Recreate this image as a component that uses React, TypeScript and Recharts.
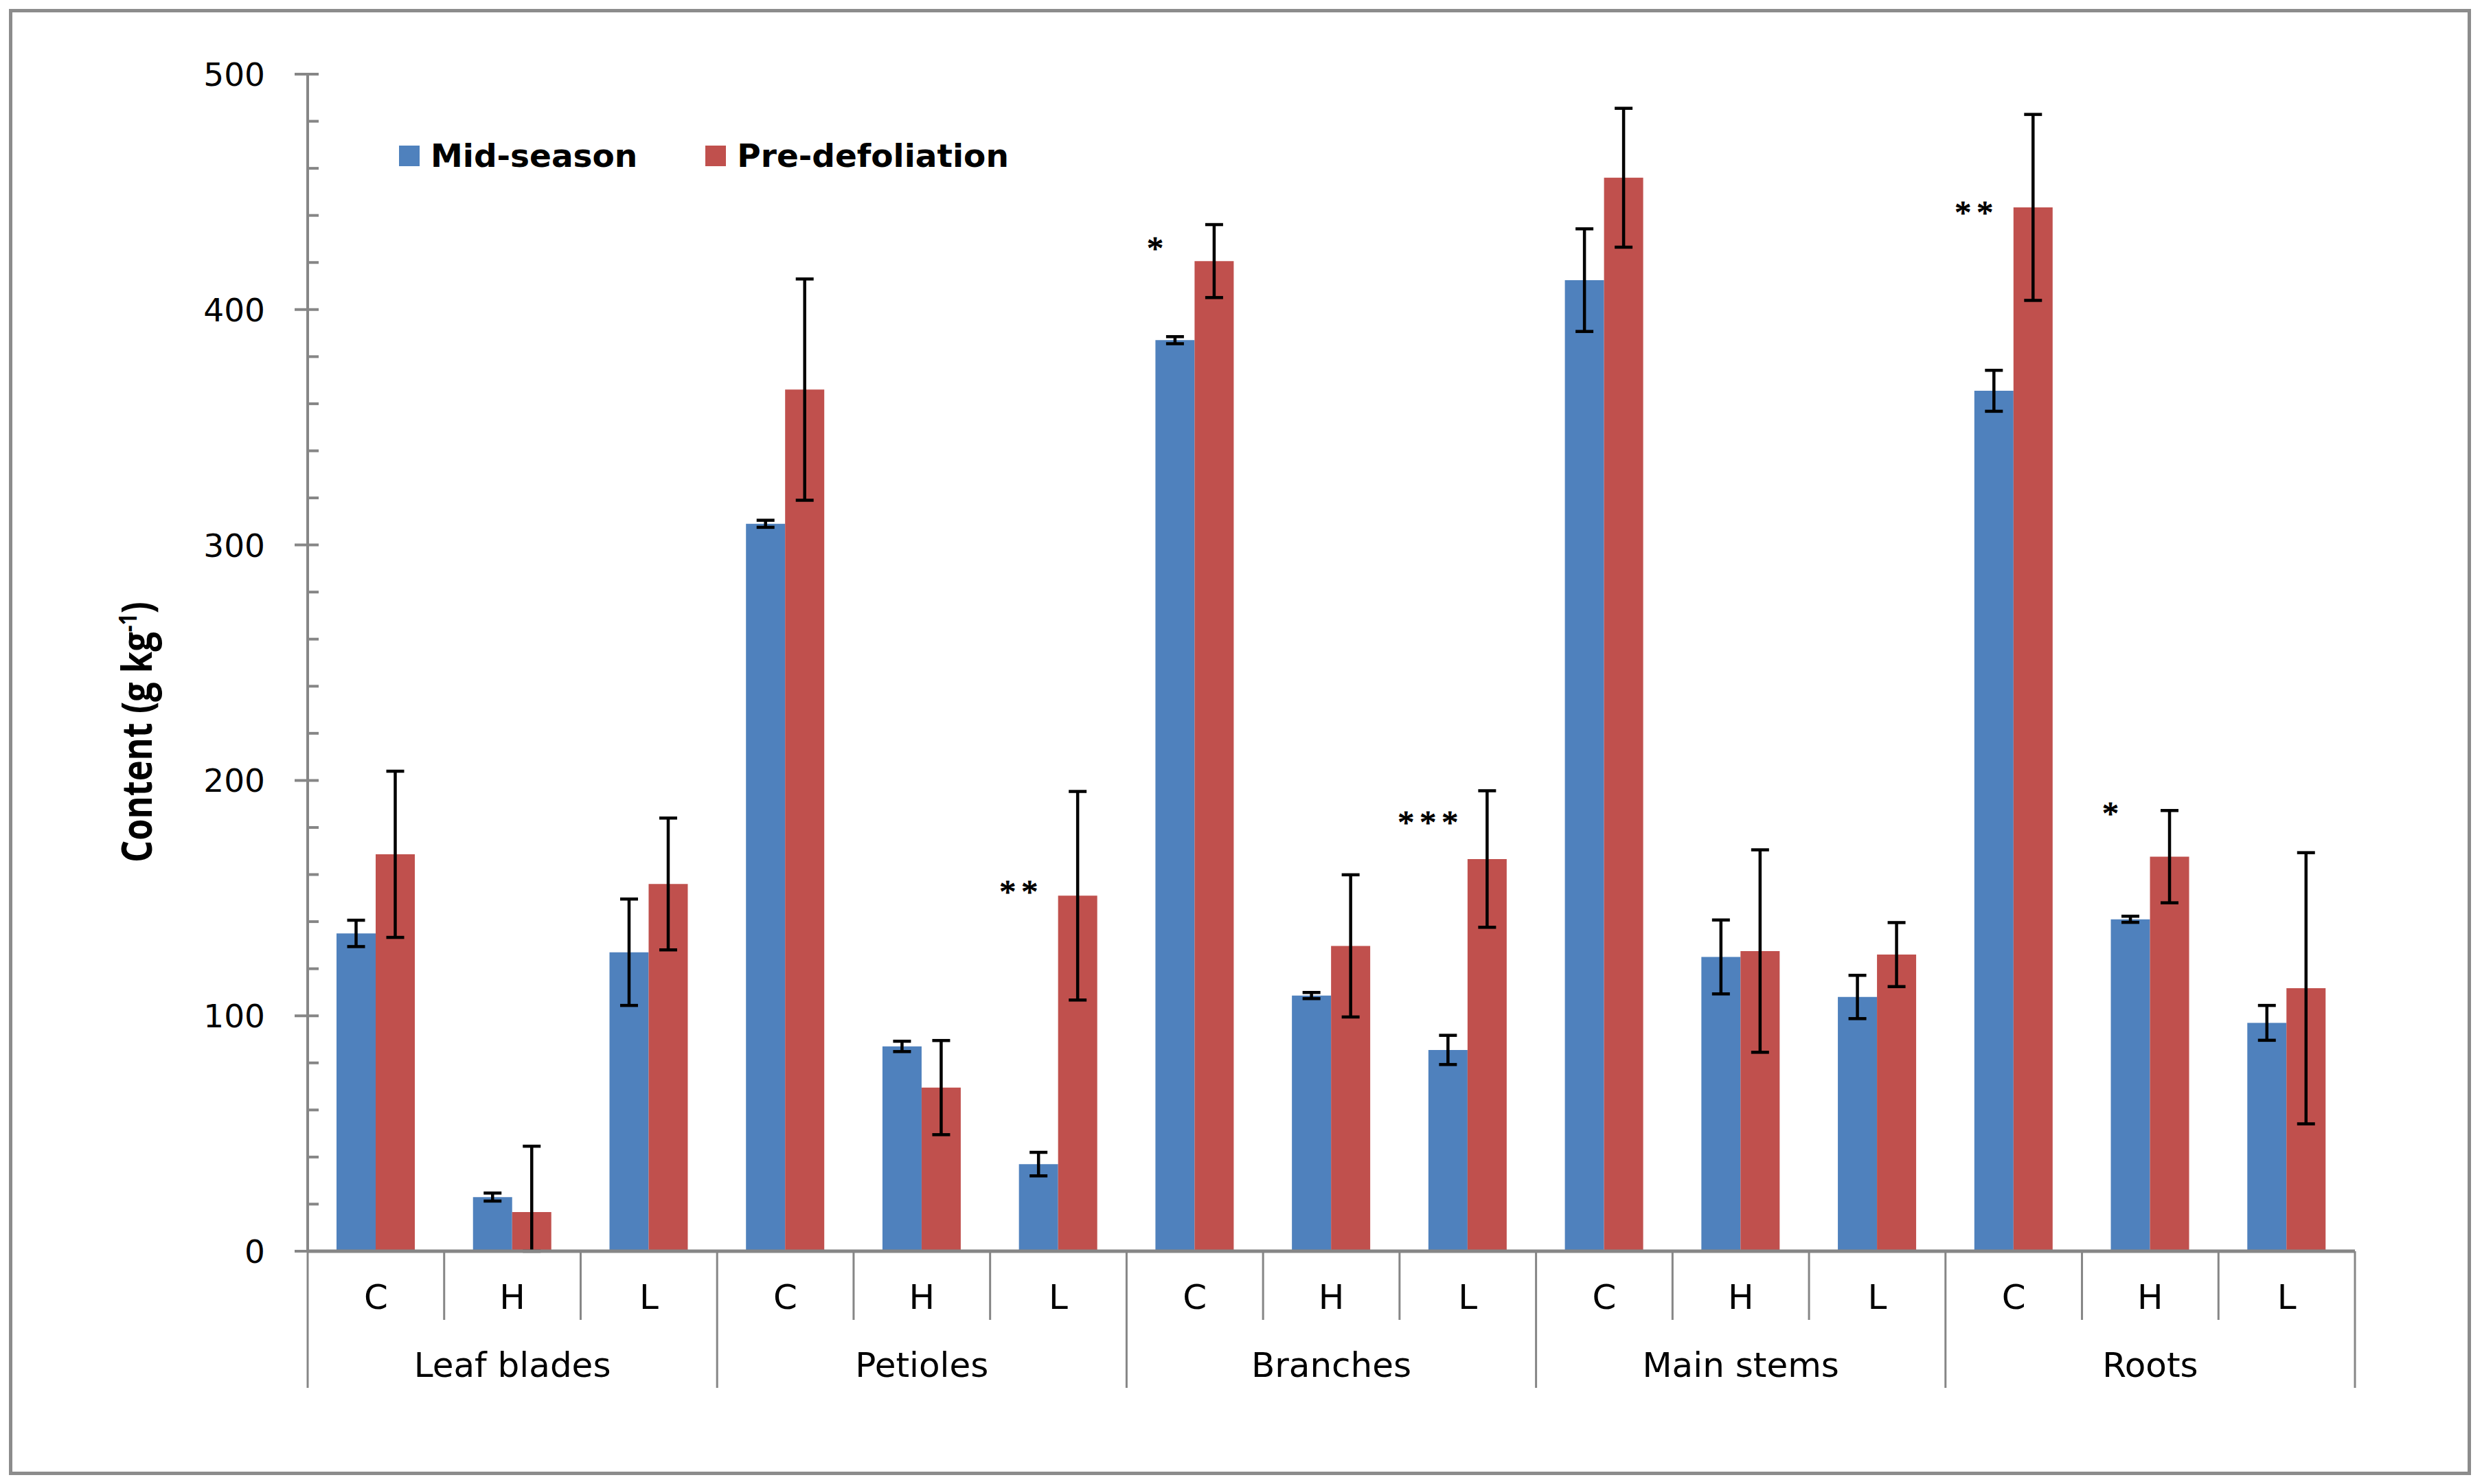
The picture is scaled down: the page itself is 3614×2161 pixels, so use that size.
import { Bar, BarChart, ErrorBar, LabelList, Legend, XAxis, YAxis } from "recharts";

// organs (outer x-axis level) and treatments (inner level)
const organs = ["Leaf blades", "Petioles", "Branches", "Main stems", "Roots"];
const treatments = ["C", "H", "L"];

// content, g kg-1, one value per organ x treatment
const midSeason = [135, 23, 127, 309, 87, 37, 387, 108.6, 85.5, 412.5, 125, 108, 365.5, 141, 97];
const midSeasonSE = [5.6, 1.7, 22.6, 1.5, 2.2, 5, 1.5, 1.3, 6.2, 21.8, 15.7, 9.2, 8.7, 1.3, 7.4];
const preDefoliation = [168.6, 16.6, 156, 366, 69.5, 151, 420.6, 129.7, 166.6, 456, 127.5, 126, 443.4, 167.6, 111.7];
const preDefoliationSE = [35.3, 28, 28, 47, 20, 44.3, 15.5, 30.2, 29, 29.5, 43, 13.6, 39.5, 19.6, 57.6];

// significance marks and the height (in data units) they sit at
const sigMarks = ["", "", "", "", "", "**", "*", "", "***", "", "", "", "**", "*", ""];
const sigLevel = [0, 0, 0, 0, 0, 154.6, 428, 0, 184, 0, 0, 0, 443, 188, 0];

const yTicks = [0, 20, 40, 60, 80, 100, 120, 140, 160, 180, 200, 220, 240, 260, 280, 300, 320, 340, 360, 380, 400, 420, 440, 460, 480, 500];

// error bars stop at the axis, as in the original figure
const clampErr = (v: number, se: number) => [Math.min(se, v), se];

const rows = organs.flatMap((organ, g) =>
	treatments.map((treat, k) => {
		const i = g * 3 + k;
		return {
			key: `${organ}-${treat}`,
			organ,
			treat,
			mid: midSeason[i],
			midErr: clampErr(midSeason[i], midSeasonSE[i]),
			pre: preDefoliation[i],
			preErr: clampErr(preDefoliation[i], preDefoliationSE[i]),
		};
	}),
);

const W = 3614;
const H = 2161;
const PLOT_LEFT = 448;
const PLOT_RIGHT = 3429;
const PLOT_TOP = 108;
const PLOT_BOTTOM = 1822;
const Y_AXIS_W = 100;
const X_AXIS_H = 200;
const CAT_W = (PLOT_RIGHT - PLOT_LEFT) / rows.length;

const GREY = "#868686";
const BLUE = "#4f81bd";
const RED = "#c0504d";

function ValueTick(props: any) {
	const { x, y, payload } = props;
	const v = payload.value;
	const major = v % 100 === 0;
	return (
		<g>
			<line x1={major ? x - 19 : x} x2={x + 16} y1={y} y2={y} stroke={GREY} strokeWidth={4} />
			{major && (
				<text x={x - 62} y={y} dy="0.36em" textAnchor="end" fontFamily="DejaVu Sans" fontSize={47} fill="#000">
					{v}
				</text>
			)}
		</g>
	);
}

function CategoryTick(props: any) {
	const { x, y, payload } = props;
	const i = payload.index;
	const row = rows[i];
	const half = CAT_W / 2;
	const k = i % 3;
	return (
		<g>
			<line x1={x - half} x2={x - half} y1={y} y2={y + (k === 0 ? 199 : 100)} stroke={GREY} strokeWidth={3} />
			{i === rows.length - 1 && (
				<line x1={x + half} x2={x + half} y1={y} y2={y + 199} stroke={GREY} strokeWidth={3} />
			)}
			<text x={x} y={y + 84} textAnchor="middle" fontFamily="DejaVu Sans" fontSize={50} fill="#000">
				{row.treat}
			</text>
			{k === 1 && (
				<text x={x} y={y + 183} textAnchor="middle" fontFamily="DejaVu Sans" fontSize={50} fill="#000">
					{row.organ}
				</text>
			)}
		</g>
	);
}

function YLabel() {
	return (
		<text
			transform="translate(221, 1066) rotate(-90)"
			textAnchor="middle"
			fontFamily="Open Sans"
			fontWeight="bold"
			fontSize={60}
			textLength={380}
			lengthAdjust="spacingAndGlyphs"
			fill="#000"
		>
			Content (g kg
			<tspan dy={-22} fontSize={36}>
				-1
			</tspan>
			<tspan dy={22}>)</tspan>
		</text>
	);
}

function SigMark(props: any) {
	const index = props.index;
	const mark = sigMarks[index];
	if (!mark) return null;
	const vb = props.viewBox ?? {};
	const x = props.x ?? vb.x;
	const y = props.y ?? vb.y;
	const width = props.width ?? vb.width;
	const height = props.height ?? vb.height;
	const unit = height / midSeason[index];
	const cy = y + height - sigLevel[index] * unit;
	return (
		<text
			x={x + width / 2 - 25}
			y={cy}
			dy={23}
			textAnchor="middle"
			fontFamily="Liberation Serif"
			fontSize={48}
			letterSpacing={8}
			fill="#000"
			stroke="#000"
			strokeWidth={1.2}
		>
			{mark}
		</text>
	);
}

function LegendContent(props: any) {
	const { payload = [] } = props;
	return (
		<div
			style={{
				display: "flex",
				alignItems: "center",
				fontFamily: "DejaVu Sans",
				fontWeight: "bold",
				fontSize: 47,
				whiteSpace: "nowrap",
				color: "#000",
			}}
		>
			{payload.map((p: any) => (
				<div key={p.value} style={{ display: "flex", alignItems: "center", marginRight: 99 }}>
					<span style={{ width: 30, height: 30, background: p.color, marginRight: 16, display: "inline-block" }} />
					<span>{p.value}</span>
				</div>
			))}
		</div>
	);
}

export default function App() {
	return (
		<div style={{ position: "absolute", left: 0, top: 0, width: W, height: H, background: "#fff" }}>
			<div
				style={{
					position: "absolute",
					left: 13,
					top: 13,
					width: 3575,
					height: 2125,
					border: "5px solid #8c8c8c",
				}}
			/>
			<div style={{ position: "absolute", left: 0, top: 0 }}>
				<BarChart
					width={W}
					height={H}
					data={rows}
					margin={{
						top: PLOT_TOP,
						right: W - PLOT_RIGHT,
						bottom: H - PLOT_BOTTOM - X_AXIS_H,
						left: PLOT_LEFT - Y_AXIS_W,
					}}
					barGap={0}
					barSize={57}
				>
					<XAxis
						xAxisId="top"
						orientation="top"
						dataKey="key"
						height={0}
						tick={false}
						tickLine={false}
						axisLine={{ stroke: "#000", strokeWidth: 4 }}
					/>
					<YAxis
						yAxisId="right"
						orientation="right"
						width={0}
						domain={[0, 500]}
						tick={false}
						tickLine={false}
						axisLine={{ stroke: "#000", strokeWidth: 4 }}
					/>
					<YAxis
						width={Y_AXIS_W}
						domain={[0, 500]}
						ticks={yTicks}
						interval={0}
						allowDataOverflow
						tickSize={0}
						tickMargin={0}
						tickLine={false}
						tick={<ValueTick />}
						axisLine={{ stroke: GREY, strokeWidth: 4 }}
						label={<YLabel />}
					/>
					<Legend
						layout="vertical"
						align="center"
						verticalAlign="middle"
						content={<LegendContent />}
						wrapperStyle={{ left: 581, top: 199, width: "auto", height: "auto" }}
					/>
					<Bar dataKey="mid" name="Mid-season" fill={BLUE} isAnimationActive={false}>
						<ErrorBar dataKey="midErr" width={13} strokeWidth={4.5} stroke="#000" direction="y" />
						<LabelList dataKey="mid" content={<SigMark />} />
					</Bar>
					<Bar dataKey="pre" name="Pre-defoliation" fill={RED} isAnimationActive={false}>
						<ErrorBar dataKey="preErr" width={13} strokeWidth={4.5} stroke="#000" direction="y" />
					</Bar>
					<XAxis
						dataKey="key"
						height={X_AXIS_H}
						interval={0}
						tickSize={0}
						tickMargin={0}
						tickLine={false}
						tick={<CategoryTick />}
						axisLine={{ stroke: GREY, strokeWidth: 5 }}
					/>
				</BarChart>
			</div>
		</div>
	);
}
